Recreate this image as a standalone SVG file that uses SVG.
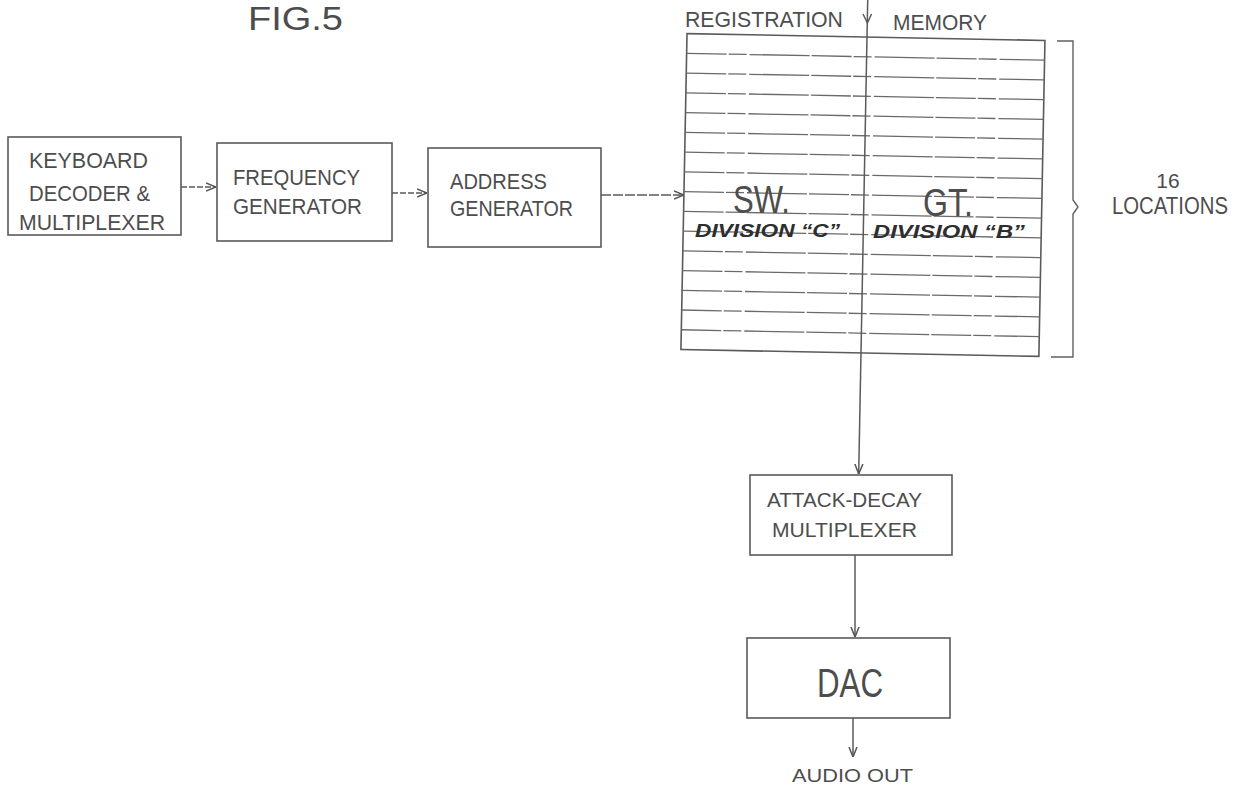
<svg xmlns="http://www.w3.org/2000/svg" width="1247" height="791" viewBox="0 0 1247 791">
<style>
.box{fill:none;stroke:#5a5a5a;stroke-width:1.6}
.ln{fill:none;stroke:#606060;stroke-width:1.4}
.gl{fill:none;stroke:#6a6a6a;stroke-width:1.3;stroke-dasharray:40 2 18 3 60 2}
.t{font-family:"Liberation Sans",Arial,sans-serif;fill:#4d4d4d}
.h{font-family:"Liberation Sans",Arial,sans-serif;fill:#2e2e2e;font-weight:bold;font-style:italic}
.c{fill:none;stroke:#5a5a5a;stroke-width:1.5}
</style>
<defs>
<marker id="arr" viewBox="0 0 10 10" refX="10" refY="5" markerWidth="10" markerHeight="10" markerUnits="userSpaceOnUse" orient="auto">
<path d="M0,1 L10,5 L0,9" fill="none" stroke="#555" stroke-width="1.5"/>
</marker>
</defs>
<rect width="1247" height="791" fill="#ffffff"/>

<text id="title" class="t" x="248" y="30" font-size="33" textLength="95" lengthAdjust="spacingAndGlyphs" fill="#5a5a5a">FIG.5</text>

<g id="keyboard">
<rect class="box" x="8" y="137" width="173" height="98"/>
<text class="t" x="29" y="168" font-size="22" textLength="119" lengthAdjust="spacingAndGlyphs">KEYBOARD</text>
<text class="t" x="29" y="201" font-size="22" textLength="121" lengthAdjust="spacingAndGlyphs">DECODER &amp;</text>
<text class="t" x="19" y="230" font-size="22" textLength="146" lengthAdjust="spacingAndGlyphs">MULTIPLEXER</text>
</g>

<g id="frequency">
<rect class="box" x="217" y="143" width="175" height="98"/>
<text class="t" x="233" y="185" font-size="22" textLength="127" lengthAdjust="spacingAndGlyphs">FREQUENCY</text>
<text class="t" x="233" y="214" font-size="22" textLength="129" lengthAdjust="spacingAndGlyphs">GENERATOR</text>
</g>

<g id="address">
<rect class="box" x="428" y="148" width="173" height="99"/>
<text class="t" x="450" y="189" font-size="22" textLength="97" lengthAdjust="spacingAndGlyphs">ADDRESS</text>
<text class="t" x="450" y="216" font-size="22" textLength="123" lengthAdjust="spacingAndGlyphs">GENERATOR</text>
</g>

<g id="memory">
<g transform="rotate(1.1 864 192)">
<rect class="box" x="684" y="37" width="358" height="316"/>
<path class="gl" d="M684,56.75H1042M684,76.5H1042M684,96.25H1042M684,116H1042M684,135.75H1042M684,155.5H1042M684,175.25H1042M684,195H1042M684,214.75H1042M684,234.5H1042M684,254.25H1042M684,274H1042M684,293.75H1042M684,313.5H1042M684,333.25H1042"/>
</g>
<text class="t" x="685" y="27" font-size="22" textLength="158" lengthAdjust="spacingAndGlyphs">REGISTRATION</text>
<text class="t" x="893" y="30" font-size="22" textLength="94" lengthAdjust="spacingAndGlyphs">MEMORY</text>
<text class="t" x="733" y="213" font-size="38" textLength="57" lengthAdjust="spacingAndGlyphs" fill="#777">SW.</text>
<text class="t" x="923" y="216" font-size="38" textLength="50" lengthAdjust="spacingAndGlyphs" fill="#777">GT.</text>
<text class="h" x="695" y="237" font-size="18" textLength="145" lengthAdjust="spacingAndGlyphs">DIVISION “C”</text>
<text class="h" x="873" y="238" font-size="18" textLength="152" lengthAdjust="spacingAndGlyphs">DIVISION “B”</text>
</g>

<g id="locations">
<path class="ln" d="M1057,41 H1073 V200 L1078,207 L1073,214 V357 H1051"/>
<text class="t" x="1168" y="188" font-size="21" text-anchor="middle">16</text>
<text class="t" x="1112" y="214" font-size="24" textLength="116" lengthAdjust="spacingAndGlyphs">LOCATIONS</text>
</g>

<g id="attack-decay">
<rect class="box" x="750" y="475" width="202" height="80"/>
<text class="t" x="767" y="507" font-size="21" textLength="155" lengthAdjust="spacingAndGlyphs">ATTACK-DECAY</text>
<text class="t" x="772" y="537" font-size="21" textLength="145" lengthAdjust="spacingAndGlyphs">MULTIPLEXER</text>
</g>

<g id="dac">
<rect class="box" x="747" y="638" width="203" height="80"/>
<text class="t" x="817" y="697" font-size="40" textLength="66" lengthAdjust="spacingAndGlyphs">DAC</text>
</g>

<g id="audio-out">
<text class="t" x="792" y="782" font-size="19" textLength="121" lengthAdjust="spacingAndGlyphs">AUDIO OUT</text>
</g>

<g id="connectors">
<line class="c" x1="181" y1="187" x2="216" y2="187" marker-end="url(#arr)" stroke-dasharray="6 2"/>
<line class="c" x1="392" y1="193" x2="427" y2="193" marker-end="url(#arr)" stroke-dasharray="6 2"/>
<line class="c" x1="601" y1="195" x2="684" y2="195" marker-end="url(#arr)" stroke-dasharray="10 2"/>
<line class="c" x1="867.7" y1="0" x2="858.7" y2="474" marker-end="url(#arr)"/>
<path class="c" d="M863,14 L867.4,23 L871.5,14"/>
<line class="c" x1="855" y1="555" x2="855" y2="637" marker-end="url(#arr)"/>
<line class="c" x1="853" y1="718" x2="853" y2="757" marker-end="url(#arr)"/>
</g>
</svg>
